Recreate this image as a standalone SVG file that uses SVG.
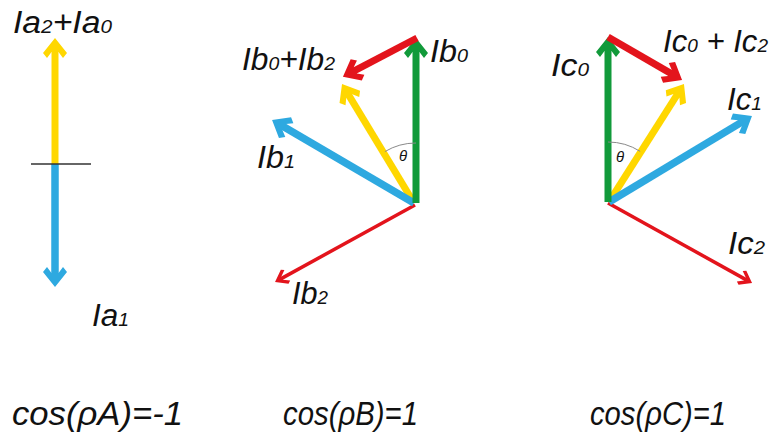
<svg xmlns="http://www.w3.org/2000/svg" width="774" height="435" viewBox="0 0 774 435">
<style>
.lbl{font-family:"Liberation Sans",Arial,sans-serif;font-style:italic;font-size:31px;fill:#111}
.sub{font-size:19px}
.cos{font-family:"Liberation Sans",Arial,sans-serif;font-style:italic;font-size:34px;fill:#111}
.th{font-family:"Liberation Sans",Arial,sans-serif;font-style:italic;font-size:15px;fill:#111}
.thick{fill:none;stroke-width:7;stroke-linecap:butt}
.thin{fill:none;stroke-width:3.5;stroke-linecap:butt}
.yel{stroke:#FFD700}.blu{stroke:#2EA9E0;stroke-width:7.5}.grn{stroke:#119A3A}.red{stroke:#E3141C}
.arc{fill:none;stroke:#8a8a8a;stroke-width:1}
</style>
<defs>
<marker id="hy" markerUnits="userSpaceOnUse" orient="auto" refX="0" refY="0" markerWidth="1" markerHeight="1" style="overflow:visible"><path d="M10,0 L-5,-12 L-10,-8 L-4,-3.5 L-4,3.5 L-10,8 L-5,12 Z" fill="#FFD700"/></marker>
<marker id="hb" markerUnits="userSpaceOnUse" orient="auto" refX="0" refY="0" markerWidth="1" markerHeight="1" style="overflow:visible"><path d="M10,0 L-5,-12 L-10,-8 L-4,-3.5 L-4,3.5 L-10,8 L-5,12 Z" fill="#2EA9E0"/></marker>
<marker id="hg" markerUnits="userSpaceOnUse" orient="auto" refX="0" refY="0" markerWidth="1" markerHeight="1" style="overflow:visible"><path d="M10,0 L-5,-12 L-10,-8 L-4,-3.5 L-4,3.5 L-10,8 L-5,12 Z" fill="#119A3A"/></marker>
<marker id="hr" markerUnits="userSpaceOnUse" orient="auto" refX="0" refY="0" markerWidth="1" markerHeight="1" style="overflow:visible"><path d="M10,0 L-5,-12 L-10,-8 L-4,-3.5 L-4,3.5 L-10,8 L-5,12 Z" fill="#E3141C"/></marker>
<marker id="hrt" markerUnits="userSpaceOnUse" orient="auto" refX="0" refY="0" markerWidth="1" markerHeight="1" style="overflow:visible"><path d="M6,0 L-5,-8 L-8,-6 L-2,-1.7 L-2,1.7 L-8,6 L-5,8 Z" fill="#E3141C"/></marker>
</defs>

<g id="connectors">
  <!-- A -->
  <line class="thick yel" x1="55" y1="164" x2="55" y2="48" marker-end="url(#hy)"/>
  <line class="thick blu" x1="55" y1="164" x2="55" y2="277" marker-end="url(#hb)"/>
  <line x1="31" y1="164" x2="91" y2="164" stroke="#333" stroke-width="1.6"/>
  <!-- B -->
  <line class="thin red" x1="415" y1="205" x2="280.3" y2="279.1" marker-end="url(#hrt)"/>
  <line class="thick yel" x1="414" y1="203" x2="347.2" y2="92.6" marker-end="url(#hy)"/>
  <line class="thick blu" x1="414" y1="203" x2="280.7" y2="125" marker-end="url(#hb)"/>
  <line class="thick grn" x1="416" y1="203" x2="416" y2="48" marker-end="url(#hg)"/>
  <line class="thick red" x1="417" y1="38" x2="351.8" y2="72.2" marker-end="url(#hr)"/>
  <path class="arc" d="M384.9,151.6 A60,60 0 0 1 416,143"/>
  <!-- C -->
  <line class="thin red" x1="608" y1="203" x2="746.8" y2="280.1" marker-end="url(#hrt)"/>
  <line class="thick yel" x1="609" y1="202" x2="678.6" y2="92.4" marker-end="url(#hy)"/>
  <line class="thick blu" x1="609" y1="202" x2="743.4" y2="121.1" marker-end="url(#hb)"/>
  <line class="thick grn" x1="608" y1="202" x2="608" y2="47" marker-end="url(#hg)"/>
  <line class="thick red" x1="608" y1="37" x2="673.4" y2="74.9" marker-end="url(#hr)"/>
  <path class="arc" d="M608,142 A60,60 0 0 1 640.2,151.4"/>
</g>

<g id="labelsA">
  <text class="lbl" x="13" y="33" textLength="99" lengthAdjust="spacingAndGlyphs">Ia<tspan class="sub">2</tspan>+Ia<tspan class="sub">0</tspan></text>
  <text class="lbl" x="92" y="326" textLength="37" lengthAdjust="spacingAndGlyphs">Ia<tspan class="sub">1</tspan></text>
</g>
<g id="labelsB">
  <text class="lbl" x="242" y="70" textLength="93" lengthAdjust="spacingAndGlyphs">Ib<tspan class="sub">0</tspan>+Ib<tspan class="sub">2</tspan></text>
  <text class="lbl" x="430" y="62" textLength="38" lengthAdjust="spacingAndGlyphs">Ib<tspan class="sub">0</tspan></text>
  <text class="lbl" x="257" y="168" textLength="38" lengthAdjust="spacingAndGlyphs">Ib<tspan class="sub">1</tspan></text>
  <text class="lbl" x="292" y="304" textLength="36" lengthAdjust="spacingAndGlyphs">Ib<tspan class="sub">2</tspan></text>
  <text class="th" x="399" y="161">θ</text>
</g>
<g id="labelsC">
  <text class="lbl" x="551" y="76" textLength="38" lengthAdjust="spacingAndGlyphs">Ic<tspan class="sub">0</tspan></text>
  <text class="lbl" x="663" y="52" textLength="105" lengthAdjust="spacingAndGlyphs">Ic<tspan class="sub">0</tspan> + Ic<tspan class="sub">2</tspan></text>
  <text class="lbl" x="727" y="110" textLength="35" lengthAdjust="spacingAndGlyphs">Ic<tspan class="sub">1</tspan></text>
  <text class="lbl" x="728" y="254" textLength="37" lengthAdjust="spacingAndGlyphs">Ic<tspan class="sub">2</tspan></text>
  <text class="th" x="616" y="162">θ</text>
</g>
<g id="formulas">
  <text class="cos" x="12" y="425" textLength="171" lengthAdjust="spacingAndGlyphs">cos(ρA)=-1</text>
  <text class="cos" x="283" y="425" textLength="135" lengthAdjust="spacingAndGlyphs">cos(ρB)=1</text>
  <text class="cos" x="590" y="425" textLength="136" lengthAdjust="spacingAndGlyphs">cos(ρC)=1</text>
</g>
</svg>
